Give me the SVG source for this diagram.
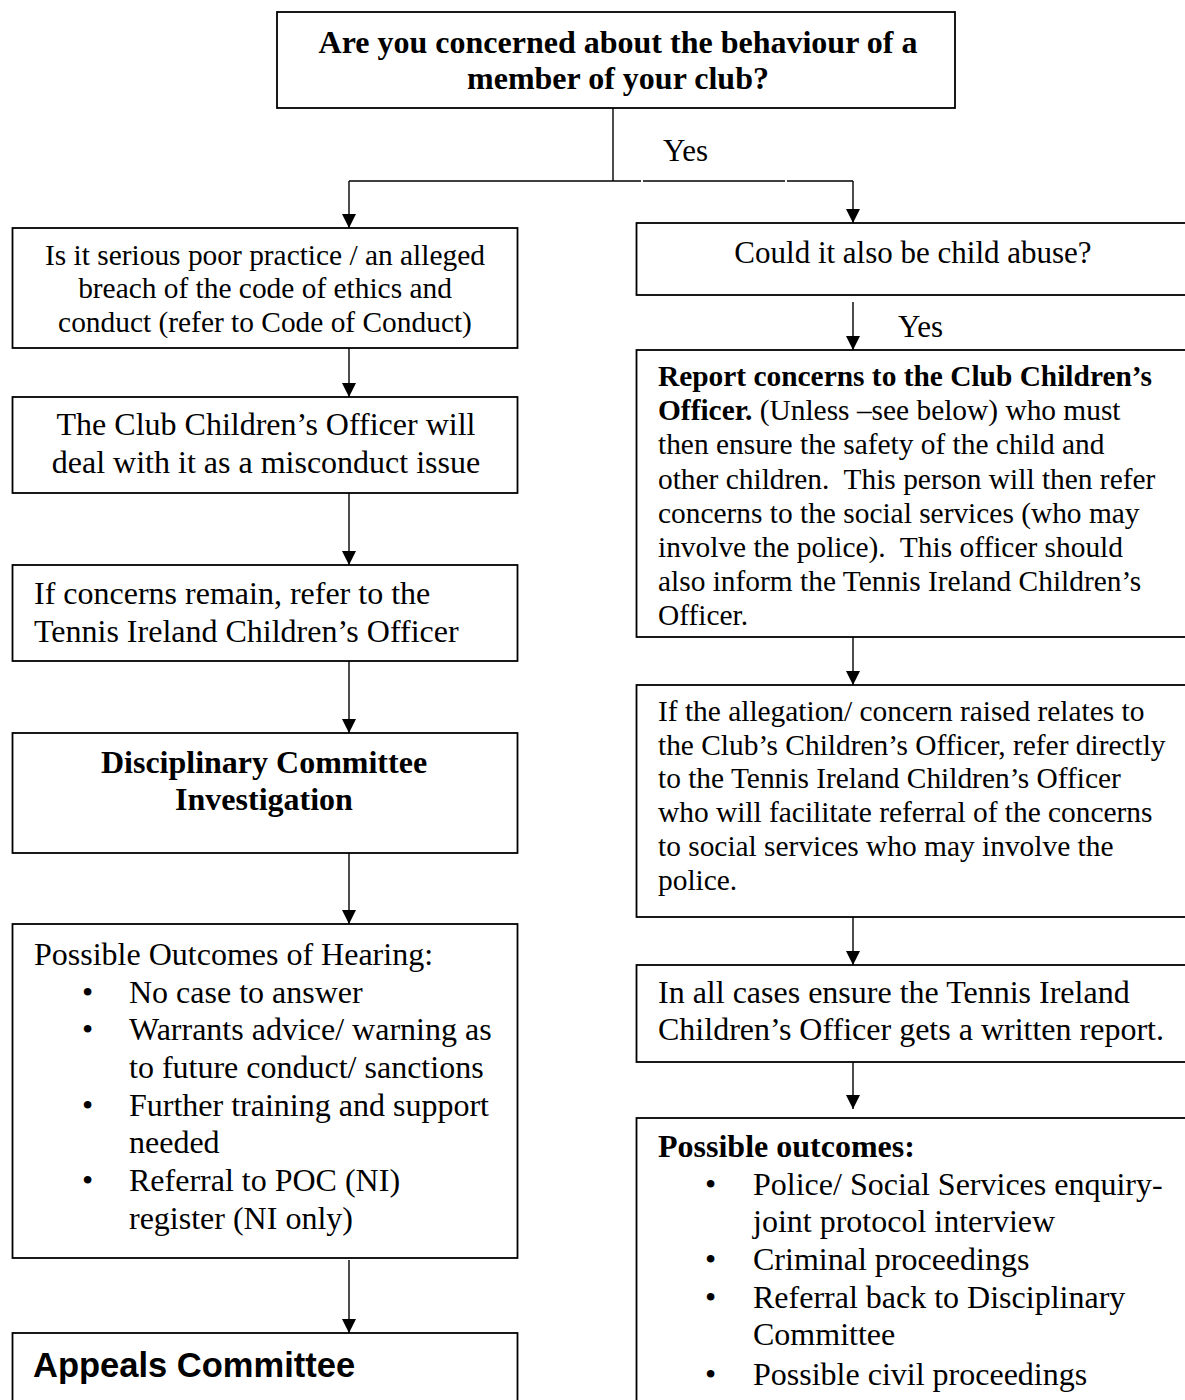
<svg xmlns="http://www.w3.org/2000/svg" width="1185" height="1400" viewBox="0 0 1185 1400">
<defs>
<marker id="ah" viewBox="0 0 14 14" refX="14" refY="7" markerWidth="14" markerHeight="14" markerUnits="userSpaceOnUse" orient="auto">
<path d="M0,0 L14,7 L0,14 Z" fill="#000"/>
</marker>
<style>
.box{fill:#fff;stroke:#000;stroke-width:1.8}
.con{fill:none;stroke:#000;stroke-width:1.4}
.t{font-family:"Liberation Serif","Times New Roman",serif;fill:#000}
.b{font-weight:bold}
.c{text-anchor:middle}
.s29{font-size:29.4px}
.s30{font-size:31px}
.s31{font-size:32px}
.a{font-family:"Liberation Sans",Arial,sans-serif;font-weight:bold;font-size:34.5px;fill:#000}
</style>
</defs>
<rect width="1185" height="1400" fill="#fff"/>

<g id="connectors">
<line class="con" x1="613" y1="108" x2="613" y2="181"/>
<line class="con" x1="349" y1="181" x2="641" y2="181"/>
<line class="con" x1="643" y1="181" x2="785" y2="181"/>
<line class="con" x1="787" y1="181" x2="853" y2="181"/>
<line class="con" x1="349" y1="181" x2="349" y2="228" marker-end="url(#ah)"/>
<line class="con" x1="853" y1="181" x2="853" y2="223" marker-end="url(#ah)"/>
<line class="con" x1="349" y1="348" x2="349" y2="397" marker-end="url(#ah)"/>
<line class="con" x1="349" y1="493" x2="349" y2="565" marker-end="url(#ah)"/>
<line class="con" x1="349" y1="661" x2="349" y2="733" marker-end="url(#ah)"/>
<line class="con" x1="349" y1="853" x2="349" y2="924" marker-end="url(#ah)"/>
<line class="con" x1="349" y1="1260" x2="349" y2="1333" marker-end="url(#ah)"/>
<line class="con" x1="853" y1="302" x2="853" y2="350" marker-end="url(#ah)"/>
<line class="con" x1="853" y1="637" x2="853" y2="685" marker-end="url(#ah)"/>
<line class="con" x1="853" y1="917" x2="853" y2="965" marker-end="url(#ah)"/>
<line class="con" x1="853" y1="1062" x2="853" y2="1109" marker-end="url(#ah)"/>
<text class="t s30" x="663" y="161">Yes</text>
<text class="t s30" x="898" y="337">Yes</text>
</g>

<g id="top">
<rect class="box" x="277" y="12" width="678" height="96"/>
<text class="t b s31 c" x="618" y="53">Are you concerned about the behaviour of a</text>
<text class="t b s31 c" x="618" y="89">member of your club?</text>
</g>

<g id="l1">
<rect class="box" x="12.5" y="228" width="505" height="120"/>
<text class="t s29 c" x="265" y="265">Is it serious poor practice / an alleged</text>
<text class="t s29 c" x="265" y="298">breach of the code of ethics and</text>
<text class="t s29 c" x="265" y="332">conduct (refer to Code of Conduct)</text>
</g>

<g id="l2">
<rect class="box" x="12.5" y="397" width="505" height="96"/>
<text class="t s31 c" x="266" y="435">The Club Children’s Officer will</text>
<text class="t s31 c" x="266" y="473">deal with it as a misconduct issue</text>
</g>

<g id="l3">
<rect class="box" x="12.5" y="565" width="505" height="96"/>
<text class="t s31" x="34" y="604">If concerns remain, refer to the</text>
<text class="t s31" x="34" y="642">Tennis Ireland Children’s Officer</text>
</g>

<g id="l4">
<rect class="box" x="12.5" y="733" width="505" height="120"/>
<text class="t b s31 c" x="264" y="773">Disciplinary Committee</text>
<text class="t b s31 c" x="264" y="810">Investigation</text>
</g>

<g id="l5">
<rect class="box" x="12.5" y="924" width="505" height="334"/>
<text class="t s31" x="34" y="965">Possible Outcomes of Hearing:</text>
<text class="t s31" x="82" y="1003">•</text>
<text class="t s31" x="129" y="1003">No case to answer</text>
<text class="t s31" x="82" y="1040">•</text>
<text class="t s31" x="129" y="1040">Warrants advice/ warning as</text>
<text class="t s31" x="129" y="1078">to future conduct/ sanctions</text>
<text class="t s31" x="82" y="1116">•</text>
<text class="t s31" x="129" y="1116">Further training and support</text>
<text class="t s31" x="129" y="1153">needed</text>
<text class="t s31" x="82" y="1191">•</text>
<text class="t s31" x="129" y="1191">Referral to POC (NI)</text>
<text class="t s31" x="129" y="1229">register (NI only)</text>
</g>

<g id="appeals">
<rect class="box" x="12.5" y="1333" width="505" height="100"/>
<text class="a" x="33" y="1377">Appeals Committee</text>
</g>

<g id="r1">
<rect class="box" x="636.5" y="223" width="560" height="72"/>
<text class="t s30 c" x="913" y="263">Could it also be child abuse?</text>
</g>

<g id="r2">
<rect class="box" x="636.5" y="350" width="560" height="287"/>
<text class="t s29" x="658" y="386"><tspan class="b">Report concerns to the Club Children’s</tspan></text>
<text class="t s29" x="658" y="420"><tspan class="b">Officer.</tspan> (Unless –see below) who must</text>
<text class="t s29" x="658" y="454">then ensure the safety of the child and</text>
<text class="t s29" x="658" y="489" xml:space="preserve">other children.  This person will then refer</text>
<text class="t s29" x="658" y="523">concerns to the social services (who may</text>
<text class="t s29" x="658" y="557" xml:space="preserve">involve the police).  This officer should</text>
<text class="t s29" x="658" y="591">also inform the Tennis Ireland Children’s</text>
<text class="t s29" x="658" y="625">Officer.</text>
</g>

<g id="r3">
<rect class="box" x="636.5" y="685" width="560" height="232"/>
<text class="t s29" x="658" y="721">If the allegation/ concern raised relates to</text>
<text class="t s29" x="658" y="755">the Club’s Children’s Officer, refer directly</text>
<text class="t s29" x="658" y="788">to the Tennis Ireland Children’s Officer</text>
<text class="t s29" x="658" y="822">who will facilitate referral of the concerns</text>
<text class="t s29" x="658" y="856">to social services who may involve the</text>
<text class="t s29" x="658" y="890">police.</text>
</g>

<g id="r4">
<rect class="box" x="636.5" y="965" width="560" height="97"/>
<text class="t s31" x="658" y="1003">In all cases ensure the Tennis Ireland</text>
<text class="t s31" x="658" y="1040">Children’s Officer gets a written report.</text>
</g>

<g id="r5">
<rect class="box" x="636.5" y="1118" width="560" height="300"/>
<text class="t b s31" x="658" y="1157">Possible outcomes:</text>
<text class="t s31" x="705" y="1195">•</text>
<text class="t s31" x="753" y="1195">Police/ Social Services enquiry-</text>
<text class="t s31" x="753" y="1232">joint protocol interview</text>
<text class="t s31" x="705" y="1270">•</text>
<text class="t s31" x="753" y="1270">Criminal proceedings</text>
<text class="t s31" x="705" y="1308">•</text>
<text class="t s31" x="753" y="1308">Referral back to Disciplinary</text>
<text class="t s31" x="753" y="1345">Committee</text>
<text class="t s31" x="705" y="1385">•</text>
<text class="t s31" x="753" y="1385">Possible civil proceedings</text>
</g>
</svg>
